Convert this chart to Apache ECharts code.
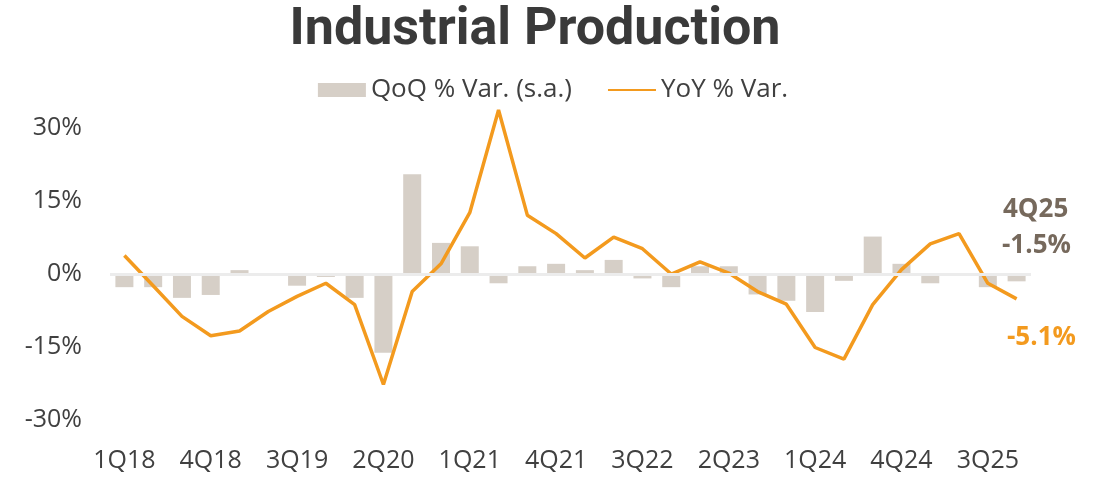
<!DOCTYPE html>
<html>
<head>
<meta charset="utf-8">
<script src="https://cdn.jsdelivr.net/npm/echarts@6/dist/echarts.min.js"></script>
<style>
  html, body { margin: 0; padding: 0; background: #fff; }
  #graph { width: 1106px; height: 479px; }
</style>
</head>
<body>
<div id="graph"></div>
<script>
// quarters 1Q18 .. 4Q25
const quarters = [
  '1Q18', '2Q18', '3Q18', '4Q18',
  '1Q19', '2Q19', '3Q19', '4Q19',
  '1Q20', '2Q20', '3Q20', '4Q20',
  '1Q21', '2Q21', '3Q21', '4Q21',
  '1Q22', '2Q22', '3Q22', '4Q22',
  '1Q23', '2Q23', '3Q23', '4Q23',
  '1Q24', '2Q24', '3Q24', '4Q24',
  '1Q25', '2Q25', '3Q25', '4Q25',
];

// QoQ % var (s.a.) - bars
const qoq = [
  -2.7, -2.7, -4.9, -4.3,
  0.8, 0, -2.4, -0.6,
  -4.9, -16.2, 20.5, 6.4,
  5.7, -1.9, 1.6, 2.1,
  0.8, 2.9, -0.9, -2.7,
  1.6, 1.6, -4.2, -5.5,
  -7.8, -1.4, 7.7, 2.1,
  -1.9, 0, -2.7, -1.5,
];

// YoY % var - line
const yoy = [
  3.8, -2.4, -8.7, -12.7,
  -11.7, -7.7, -4.6, -1.9,
  -6.3, -22.7, -3.6, 2.1,
  12.6, 33.7, 12.1, 8.3,
  3.3, 7.6, 5.2, 0.0,
  2.5, 0.2, -3.6, -6.2,
  -15.1, -17.5, -6.3, 0.9,
  6.2, 8.3, -1.9, -5.1,
];

const yTicks = [-30, -15, 0, 15, 30];

const textColor = '#404040';
const barColor = '#d6cfc7';
const lineColor = '#f39a1e';
const noteColor = '#76695c';
const font = '"Open Sans", sans-serif';
const noteFont = 'bold 26px "Open Sans", sans-serif';

const chart = echarts.init(document.getElementById('graph'));

const last = quarters.length - 1;

const option = {
  animation: false,
  title: {
    text: 'Industrial Production',
    left: 530,
    textAlign: 'center',
    top: 0,
    textStyle: {
      fontFamily: 'Roboto, sans-serif',
      fontWeight: 'bold',
      fontSize: 52,
      color: '#3a3a3a',
    },
  },
  legend: {
    top: 72,
    left: 'center',
    itemGap: 35,
    itemWidth: 48,
    itemHeight: 14,
    textStyle: {
      fontFamily: font,
      fontSize: 26,
      color: textColor,
    },
    data: [
      { name: 'QoQ % Var. (s.a.)', icon: 'rect' },
      { name: 'YoY % Var.', itemStyle: { opacity: 0 } },
    ],
  },
  grid: {
    left: 110,
    right: 75,
    top: 94,
    bottom: 59,
  },
  xAxis: {
    type: 'category',
    data: quarters,
    axisLine: { show: false, onZero: false },
    axisTick: { show: false },
    axisLabel: {
      interval: 2,
      margin: 28,
      fontFamily: font,
      fontSize: 25,
      color: textColor,
    },
  },
  yAxis: {
    type: 'value',
    min: yTicks[0],
    max: 37,
    interval: 15,
    splitLine: { show: false },
    axisLine: { show: false },
    axisTick: { show: false },
    axisLabel: {
      showMaxLabel: false,
      margin: 28,
      fontFamily: font,
      fontSize: 25,
      color: textColor,
      formatter: (v) => (yTicks.includes(v) ? v + '%' : ''),
    },
  },
  series: [
    {
      name: 'QoQ % Var. (s.a.)',
      type: 'bar',
      data: qoq,
      barWidth: 18,
      itemStyle: { color: barColor },
      markLine: {
        silent: true,
        symbol: 'none',
        label: { show: false },
        lineStyle: { color: '#ececec', width: 3, type: 'solid' },
        data: [{ yAxis: 0 }],
      },
      z: 2,
    },
    {
      name: 'YoY % Var.',
      type: 'line',
      data: yoy,
      symbol: 'none',
      lineStyle: { color: lineColor, width: 3.5 },
      itemStyle: { color: lineColor },
      z: 3,
    },
  ],
  graphic: [
    {
      type: 'text',
      x: 1003,
      y: 210,
      style: {
        text: quarters[last],
        fill: noteColor,
        font: noteFont,
        verticalAlign: 'middle',
      },
    },
    {
      type: 'text',
      x: 1002,
      y: 246,
      style: {
        text: qoq[last].toFixed(1) + '%',
        fill: noteColor,
        font: noteFont,
        verticalAlign: 'middle',
      },
    },
    {
      type: 'text',
      x: 1007,
      y: 338,
      style: {
        text: yoy[last].toFixed(1) + '%',
        fill: lineColor,
        font: noteFont,
        verticalAlign: 'middle',
      },
    },
  ],
};

chart.setOption(option);
</script>
</body>
</html>
